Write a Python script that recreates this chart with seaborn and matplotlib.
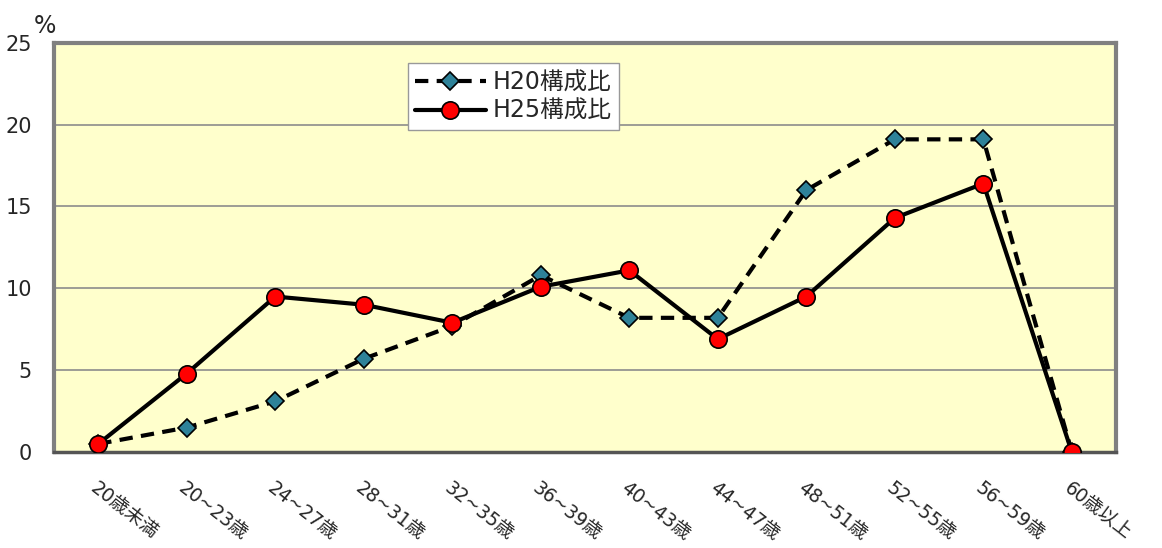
import numpy as np
import pandas as pd
import matplotlib
matplotlib.use("Agg")
import matplotlib.pyplot as plt
import seaborn as sns

# 年齢区分ごとの構成比 (%)
age_labels = ["20歳未満", "20~23歳", "24~27歳", "28~31歳", "32~35歳", "36~39歳",
              "40~43歳", "44~47歳", "48~51歳", "52~55歳", "56~59歳", "60歳以上"]
h20_ratio = [0.5, 1.5, 3.1, 5.7, 7.7, 10.8, 8.2, 8.2, 16.0, 19.1, 19.1, 0.0]
h25_ratio = [0.5, 4.8, 9.5, 9.0, 7.9, 10.1, 11.1, 6.9, 9.5, 14.3, 16.4, 0.0]
series_names = ["H20構成比", "H25構成比"]
y_ticks = [0, 5, 10, 15, 20, 25]

sns.set_style("white")
plt.rcParams["font.family"] = ["DejaVu Sans", "Noto Sans CJK JP"]

pos = np.arange(len(age_labels))
df = pd.DataFrame({
    "pos": np.concatenate([pos, pos]),
    "ratio": h20_ratio + h25_ratio,
    "series": [series_names[0]] * len(pos) + [series_names[1]] * len(pos),
})

fig = plt.figure(figsize=(11.62, 5.48), dpi=100)
ax = fig.add_axes([0.0465, 0.175, 0.914, 0.747])
ax.set_facecolor("#FFFFCC")

# H20: 破線 + ひし形
sns.lineplot(data=df[df["series"] == series_names[0]], x="pos", y="ratio",
             ax=ax, color="black", linewidth=3, linestyle="--",
             marker="D", markersize=9, markerfacecolor="#2E8299",
             markeredgecolor="black", markeredgewidth=1.2,
             label=series_names[0], sort=False, zorder=3)
# H25: 実線 + 丸
sns.lineplot(data=df[df["series"] == series_names[1]], x="pos", y="ratio",
             ax=ax, color="black", linewidth=3, linestyle="-",
             marker="o", markersize=12.5, markerfacecolor="#FF0000",
             markeredgecolor="black", markeredgewidth=1.2,
             label=series_names[1], sort=False, zorder=4)
ax.lines[0].set_dashes((3.2, 2.0))

ax.set_xlim(-0.5, len(age_labels) - 0.5)
ax.set_ylim(0, 25)
ax.set_yticks(y_ticks)
ax.set_yticklabels([str(v) for v in y_ticks], fontsize=15)
ax.yaxis.grid(True, color="#8C8C8C", linewidth=1.2)
ax.set_axisbelow(True)
ax.tick_params(axis="y", length=0, pad=16)

ax.set_xticks(pos)
ax.set_xticklabels(age_labels, fontsize=13.5, rotation=-38, ha="left",
                   va="top", rotation_mode="anchor")
ax.tick_params(axis="x", length=0, pad=19)
ax.set_xticks(pos[:-1] + 0.5, minor=True)
ax.tick_params(axis="x", which="minor", direction="in", length=5,
               color="#A0A0A0", width=1)
ax.set_xlabel("")
ax.set_ylabel("")

for side in ["left", "top", "right"]:
    ax.spines[side].set_color("#808080")
    ax.spines[side].set_linewidth(3)
ax.spines["bottom"].set_color("#555555")
ax.spines["bottom"].set_linewidth(2.5)

# 単位
fig.text(0.039, 0.93, "%", fontsize=17, ha="center", va="bottom")

leg = ax.legend(loc="upper left", bbox_to_anchor=(0.333, 0.95), fontsize=17,
                handlelength=3, frameon=True, fancybox=False,
                borderpad=0.3, labelspacing=0.2, handletextpad=0.3,
                borderaxespad=0)
leg.get_frame().set_edgecolor("#999999")
leg.get_frame().set_linewidth(1)
leg.get_frame().set_facecolor("white")
leg.get_frame().set_alpha(1)

fig.savefig("out.png", dpi=100)
